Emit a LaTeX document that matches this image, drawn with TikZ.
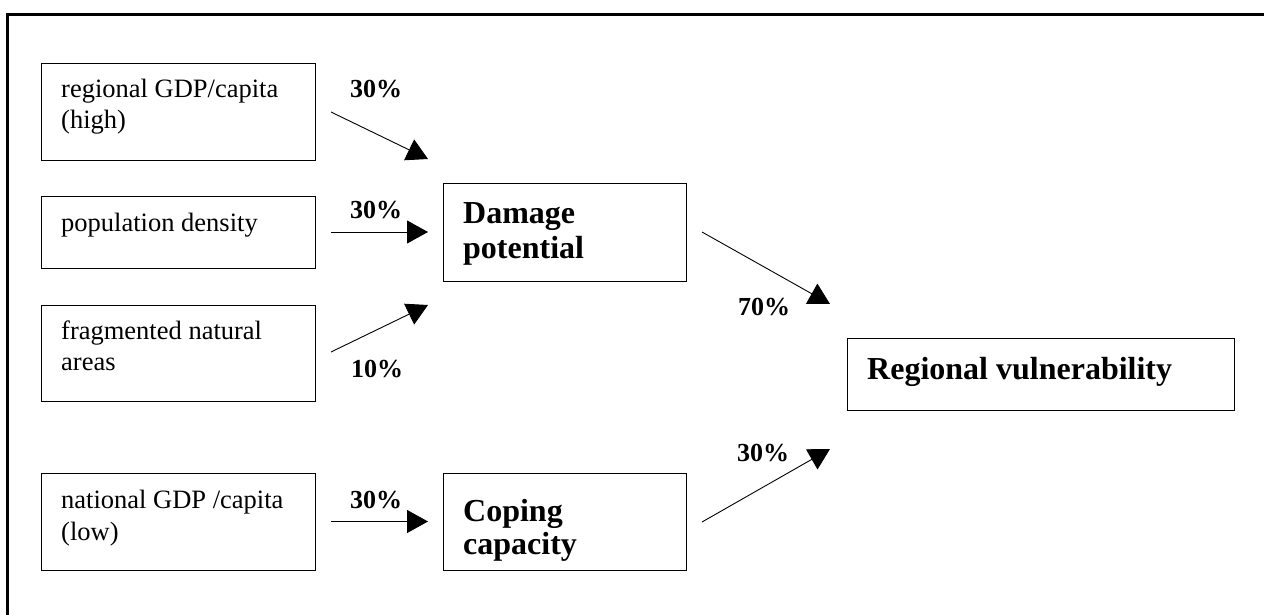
\documentclass[tikz,border=0pt]{standalone}
\usepackage{fontspec}
\setmainfont{Liberation Serif}
\usetikzlibrary{arrows.meta}
\begin{document}
\begin{tikzpicture}[x=1pt,y=-1pt,
  box/.style={draw=black, line width=1pt, inner sep=0pt, anchor=north west},
  txt/.style={font=\fontsize{26.5}{31.5}\selectfont, align=left, inner sep=0pt, anchor=base west},
  btxt/.style={font=\fontsize{32}{35}\selectfont\bfseries, align=left, inner sep=0pt, anchor=base west},
  pct/.style={font=\fontsize{26}{30}\selectfont\bfseries, inner sep=0pt, anchor=base west},
  arr/.style={line width=0.9pt, -{Triangle[length=21pt,width=23pt]}}]
\useasboundingbox (0,0) rectangle (1264,615);
\fill[white] (0,0) rectangle (1264,615);
% frame
\draw[line width=2.6pt, line join=miter] (7.5,615) -- (7.5,14.3) -- (1264,14.3);
% boxes
\node[box, minimum width=274.6pt, minimum height=97.3pt] (b1) at (40.7,62.7) {};
\node[box, minimum width=274.6pt, minimum height=72pt] (b2) at (40.7,195.7) {};
\node[box, minimum width=274.6pt, minimum height=96.3pt] (b3) at (40.7,304.7) {};
\node[box, minimum width=274.6pt, minimum height=96.7pt] (b4) at (40.7,473.3) {};
\node[box, minimum width=242.4pt, minimum height=97.4pt] (dp) at (443.3,183.3) {};
\node[box, minimum width=242.4pt, minimum height=96.7pt] (cc) at (443.3,473.3) {};
\node[box, minimum width=387pt, minimum height=72.6pt] (rv) at (846.7,337.7) {};
% texts (base anchor = baseline of the last line)
\node[txt] (t1) at (61,129) {regional GDP/capita\\(high)};
\node[txt] (t2) at (61,231) {population density};
\node[txt] (t3) at (61,370.5) {fragmented natural\\areas};
\node[txt] (t4) at (61,540) {national GDP /capita\\(low)};
\node[btxt] (t5) at (463,258.5) {Damage\\potential};
\node[btxt, font=\fontsize{32}{32.5}\selectfont\bfseries] (t6) at (463,554) {Coping\\capacity};
\node[btxt] (t7) at (867,379) {Regional vulnerability};
% arrow end points
\coordinate (a1s) at (331,112);   \coordinate (a1e) at (428,159);
\coordinate (a2s) at (331,232);   \coordinate (a2e) at (428,232);
\coordinate (a3s) at (331,352);   \coordinate (a3e) at (428,305);
\coordinate (a4s) at (331,521.5); \coordinate (a4e) at (428,521.5);
\coordinate (a5s) at (702,232);   \coordinate (a5e) at (830,304);
\coordinate (a6s) at (702,522);   \coordinate (a6e) at (830,449);
\draw[arr] (a1s) -- (a1e);
\draw[arr] (a2s) -- (a2e);
\draw[arr] (a3s) -- (a3e);
\draw[arr] (a4s) -- (a4e);
\draw[arr] (a5s) -- (a5e);
\draw[arr] (a6s) -- (a6e);
% labels
\node[pct] (p1) at (350,98) {30\%};
\node[pct] (p2) at (350,218) {30\%};
\node[pct] (p3) at (351,377) {10\%};
\node[pct] (p4) at (350,508) {30\%};
\node[pct] (p5) at (738,315) {70\%};
\node[pct] (p6) at (737,461) {30\%};
\end{tikzpicture}
\end{document}
